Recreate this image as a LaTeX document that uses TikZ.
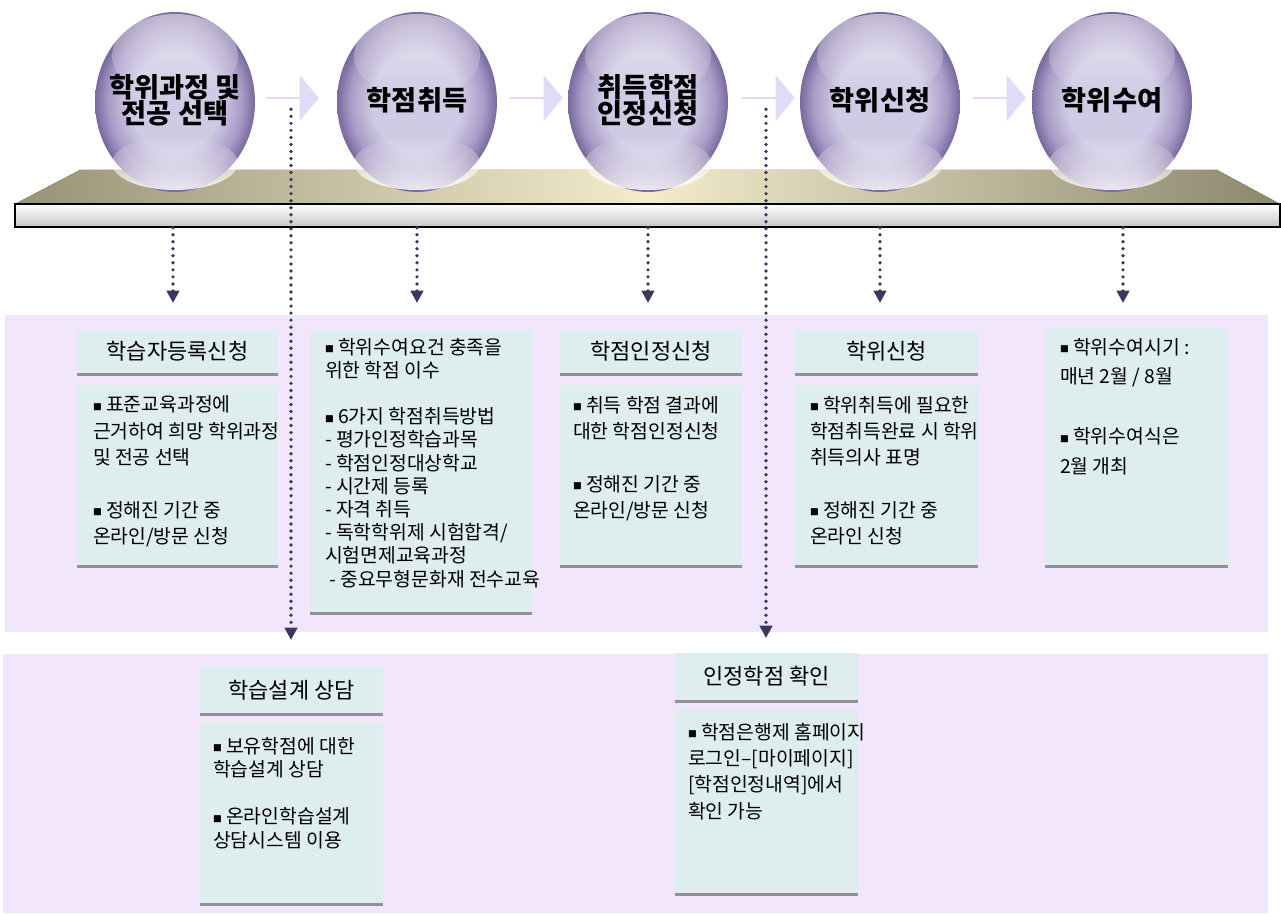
\documentclass[tikz,border=0pt]{standalone}
\usepackage{fontspec}
\setmainfont{Noto Sans CJK KR}
\usepackage{tikz}
\usetikzlibrary{shapes.geometric, shapes.arrows, arrows.meta, positioning, shadows, fadings, calc}

\definecolor{bandcol}{RGB}{241,230,251}
\definecolor{boxcol}{RGB}{222,237,237}
\definecolor{dotcol}{RGB}{58,56,92}
\definecolor{sphin}{RGB}{208,203,228}
\definecolor{sphmid}{RGB}{168,154,198}
\definecolor{sphout}{RGB}{120,105,158}
\definecolor{flowcol}{RGB}{226,219,247}
\definecolor{platL}{RGB}{152,147,118}
\definecolor{platM}{RGB}{242,236,204}
\definecolor{platR}{RGB}{140,136,110}

\pgfdeclareradialshading{ballshade}{\pgfpoint{0bp}{0bp}}{color(0bp)=(sphin); color(14bp)=(sphin); color(21bp)=(sphmid); color(25bp)=(sphout); color(50bp)=(sphout)}

\newcommand{\bul}{\raisebox{0.9pt}{\fontsize{5}{5}\selectfont■}}

\begin{document}
\begin{tikzpicture}[x=0.02cm, y=-0.02cm,
  hdbox/.style={fill=boxcol, inner sep=0, font=\fontsize{12.5}{13}\selectfont,
    drop shadow={shadow xshift=0pt, shadow yshift=-1.6pt, fill=black!55, opacity=0.75}},
  bdbox/.style={hdbox},
  bdtext/.style={anchor=north west, align=left, inner sep=0, font=\fontsize{11}{15}\selectfont},
  ball/.style={ellipse, inner sep=0, minimum width=3.2cm, minimum height=3.6cm, shading=ballshade},
  balltext/.style={align=center, font=\fontsize{15.5}{15}\selectfont\bfseries},
  flow/.style={single arrow, fill=flowcol, inner sep=0, minimum width=0.92cm,
    minimum height=1.06cm, single arrow head extend=0.16cm, single arrow tip angle=100},
  dotarr/.style={draw=dotcol, line width=2.1pt, line cap=round, dash pattern=on 0pt off 4pt,
    -{Triangle[width=7pt, length=7pt]}}]
\useasboundingbox (0,0) rectangle (1281,915);

% bands
\fill[bandcol] (5,315) rectangle (1268,632);
\fill[bandcol] (3,654) rectangle (1268,913);

% platform and bar
\fill[left color=platL, right color=platR, middle color=platM] (15,204) -- (80,170) -- (1217,170) -- (1280,204) -- cycle;
\node[draw=black, line width=0.8pt, top color=white, bottom color=black!22, minimum width=25.3cm,
  minimum height=0.46cm, inner sep=0] (bar) at (647.5,215.5) {};

% spheres
\foreach \cx/\nm/\lbl in {175/sA/{학위과정 및\\전공 선택}, 417/sB/학점취득,
    648/sC/{취득학점\\인정신청}, 880/sD/학위신청, 1112/sE/학위수여} {
  \node[ball] (\nm) at (\cx,102) {};
  \fill[white, fill opacity=0.5, path fading=south] (\cx,56) ellipse [x radius=63, y radius=42];
  \fill[white, fill opacity=0.85, path fading=north] (\cx,163) ellipse [x radius=63, y radius=27];
  \node[balltext] (l\nm) at (\cx,100) {\lbl};
}

% arrows between the steps
\node[flow] (arr1) at (292,98) {};
\node[flow] (arr2) at (536,98) {};
\node[flow] (arr3) at (768,98) {};
\node[flow] (arr4) at (999,98) {};

% row 1
\node[hdbox, minimum width=4.02cm, minimum height=0.86cm] (hdA) at (177.5,351.5) {학습자등록신청};
\node[bdbox, minimum width=4.02cm, minimum height=3.6cm] (bdA) at (177.5,475) {};
\node[bdtext] (txA) at ([xshift=0.32cm, yshift=-0.22cm]bdA.north west)
  {\bul\ 표준교육과정에\\근거하여 희망 학위과정\\및 전공 선택\\[15pt]\bul\ 정해진 기간 중\\온라인/방문 신청};

\node[bdbox, minimum width=4.44cm, minimum height=5.64cm] (bdB) at (421,471) {};
\node[bdtext, font=\fontsize{11}{13.2}\selectfont] (txB) at ([xshift=0.3cm, yshift=-0.16cm]bdB.north west)
  {\bul\ 학위수여요건 충족을\\위한 학점 이수\\[13.2pt]\bul\ 6가지 학점취득방법\\- 평가인정학습과목\\- 학점인정대상학교\\- 시간제 등록\\- 자격 취득\\- 독학학위제 시험합격/\\시험면제교육과정\\\ - 중요무형문화재 전수교육};

\node[hdbox, minimum width=3.64cm, minimum height=0.86cm] (hdC) at (651,351.5) {학점인정신청};
\node[bdbox, minimum width=3.64cm, minimum height=3.6cm] (bdC) at (651,475) {};
\node[bdtext] (txC) at ([xshift=0.26cm, yshift=-0.22cm]bdC.north west)
  {\bul\ 취득 학점 결과에\\대한 학점인정신청\\[15pt]\bul\ 정해진 기간 중\\온라인/방문 신청};

\node[hdbox, minimum width=3.66cm, minimum height=0.86cm] (hdD) at (886.5,351.5) {학위신청};
\node[bdbox, minimum width=3.66cm, minimum height=3.6cm] (bdD) at (886.5,475) {};
\node[bdtext] (txD) at ([xshift=0.3cm, yshift=-0.22cm]bdD.north west)
  {\bul\ 학위취득에 필요한\\학점취득완료 시 학위\\취득의사 표명\\[15pt]\bul\ 정해진 기간 중\\온라인 신청};

\node[bdbox, minimum width=3.66cm, minimum height=4.74cm] (bdE) at (1136.5,446.5) {};
\node[bdtext, font=\fontsize{11}{17}\selectfont] (txE) at ([xshift=0.3cm, yshift=-0.2cm]bdE.north west)
  {\bul\ 학위수여시기 :\\매년 2월 / 8월\\[17pt]\bul\ 학위수여식은\\2월 개최};

% row 2
\node[hdbox, minimum width=3.66cm, minimum height=0.92cm] (hdF) at (291.5,690) {학습설계 상담};
\node[bdbox, minimum width=3.66cm, minimum height=3.62cm] (bdF) at (291.5,812.5) {};
\node[bdtext, font=\fontsize{11}{13.4}\selectfont] (txF) at ([xshift=0.26cm, yshift=-0.3cm]bdF.north west)
  {\bul\ 보유학점에 대한\\학습설계 상담\\[13.4pt]\bul\ 온라인학습설계\\상담시스템 이용};

\node[hdbox, minimum width=3.66cm, minimum height=0.94cm] (hdG) at (766.5,676.5) {인정학점 확인};
\node[bdbox, minimum width=3.66cm, minimum height=3.66cm] (bdG) at (766.5,801.5) {};
\node[bdtext] (txG) at ([xshift=0.26cm, yshift=-0.26cm]bdG.north west)
  {\bul\ 학점은행제 홈페이지\\로그인–[마이페이지]\\{[}학점인정내역]에서\\확인 가능};

% dotted connectors
\coordinate (eA) at (173,303);
\coordinate (eB) at (417,303);
\coordinate (eC) at (648,303);
\coordinate (eD) at (880,303);
\coordinate (eE) at (1123,303);
\foreach \e in {eA,eB,eC,eD,eE}
  \draw[dotarr] (bar.south -| \e) -- (\e);

\coordinate (eF) at (291,640);
\coordinate (eG) at (766,638);
\draw[dotarr] ([yshift=-0.2cm]eF |- arr1.south) -- (eF);
\draw[dotarr] ([yshift=-0.2cm]eG |- arr3.south) -- (eG);
\end{tikzpicture}
\end{document}
